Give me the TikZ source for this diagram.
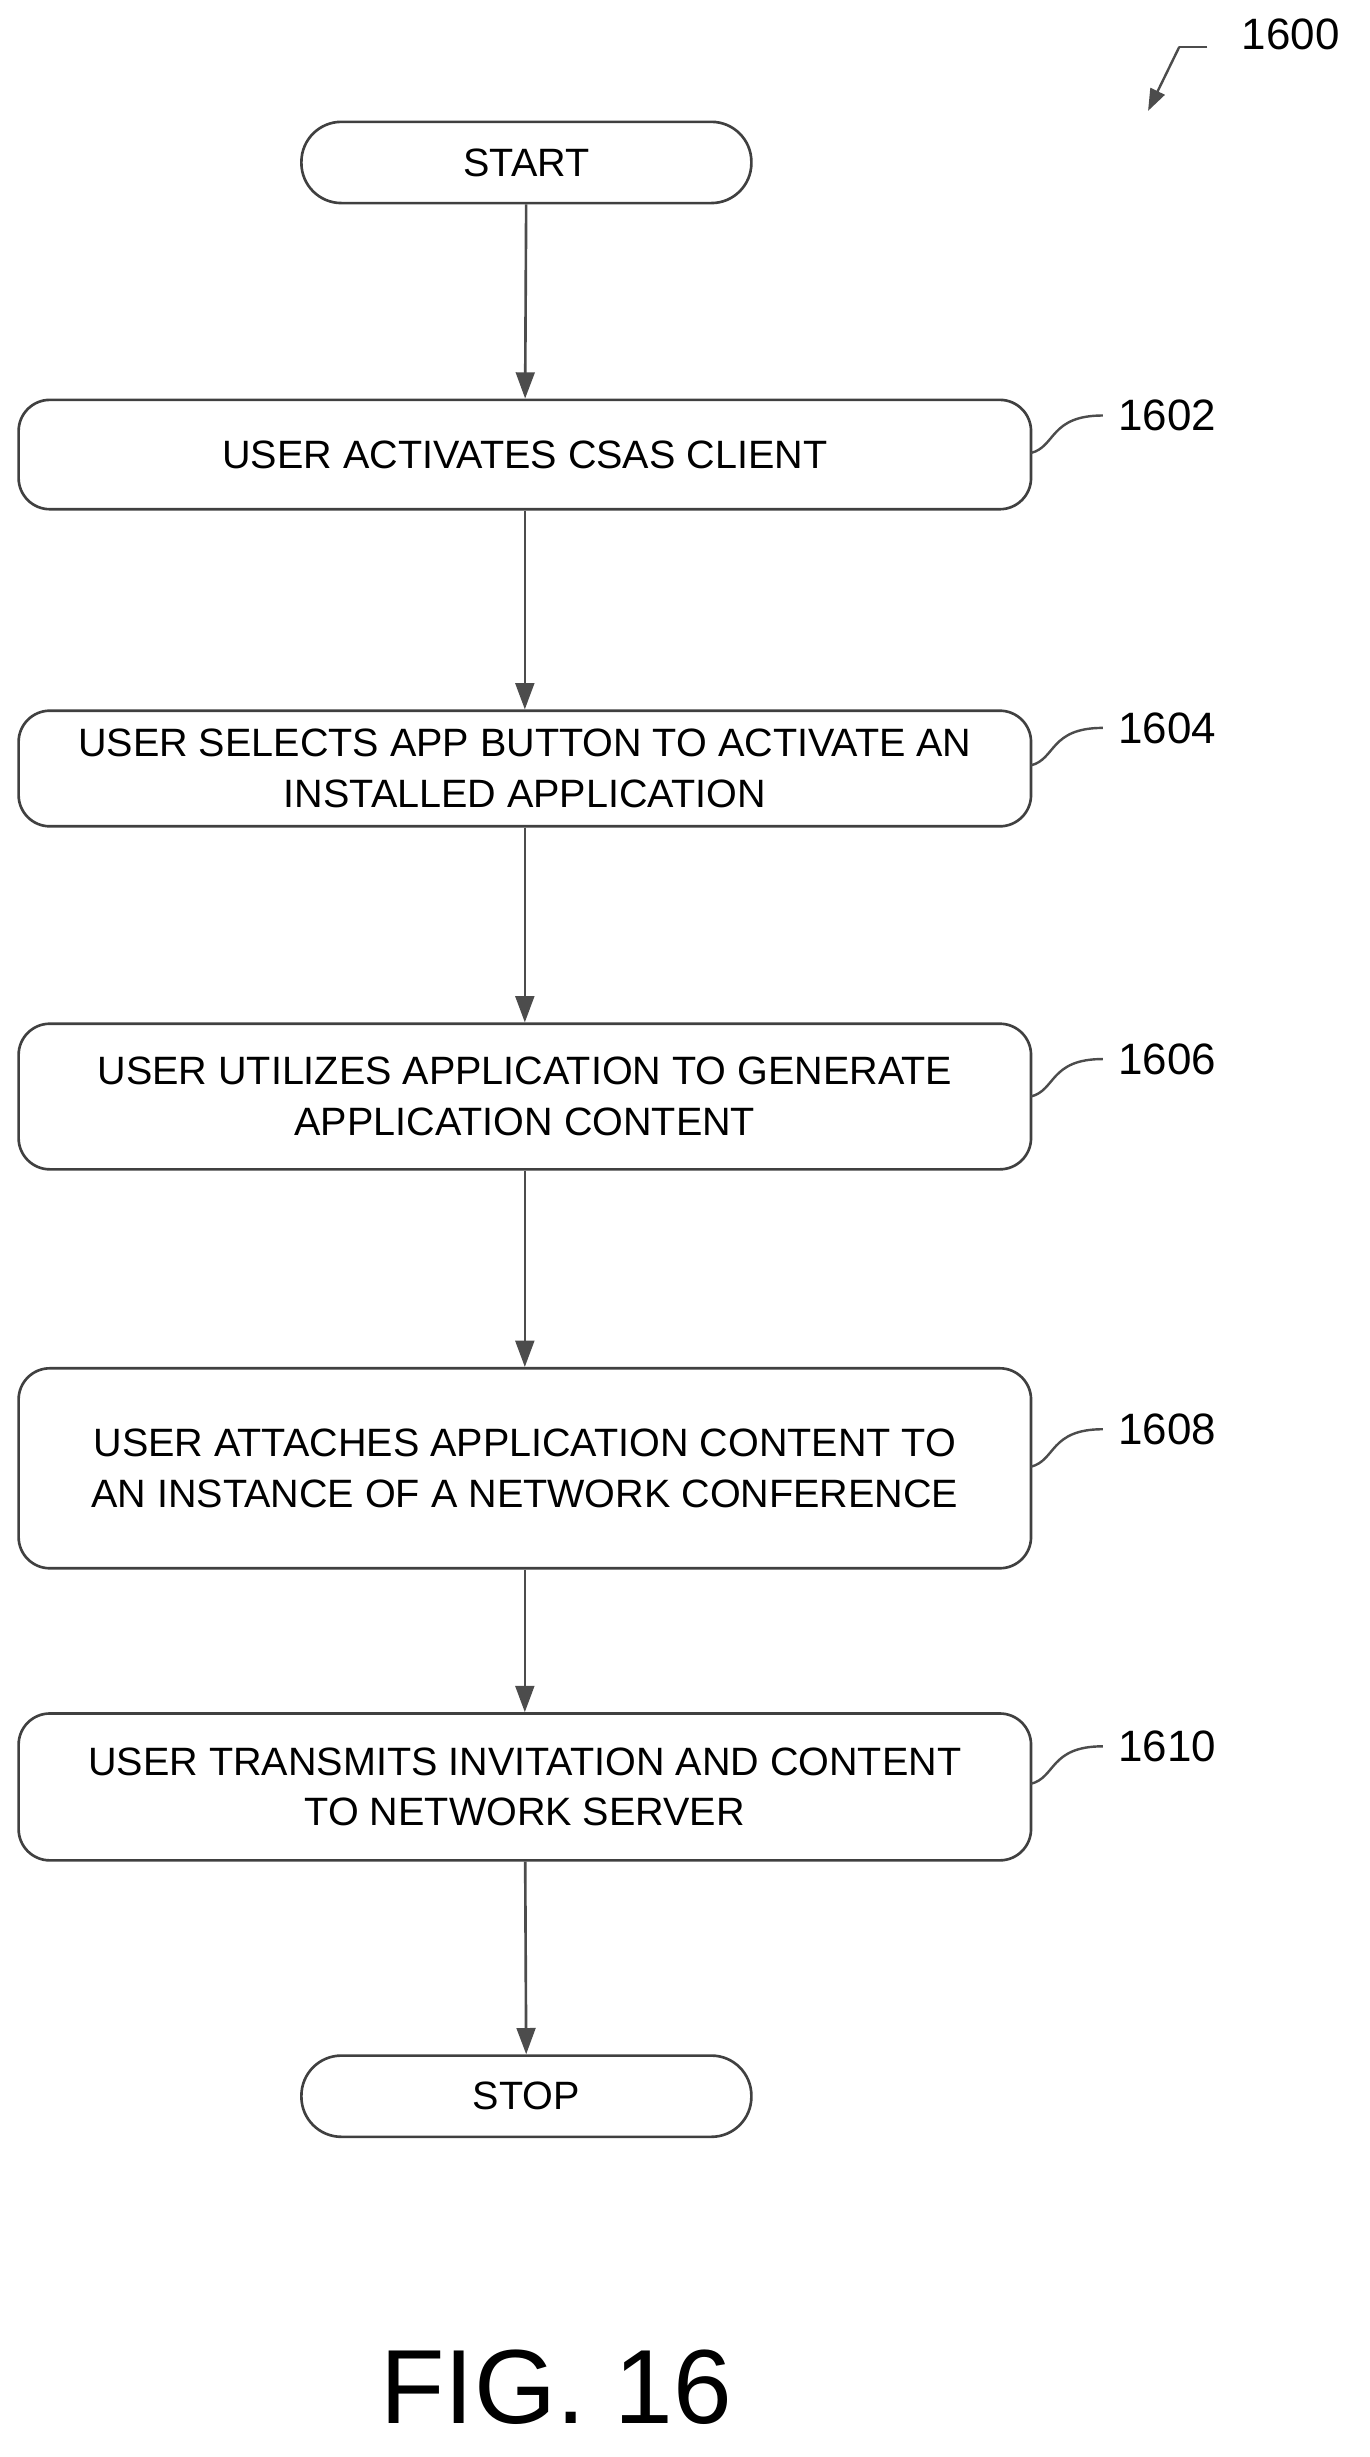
\documentclass[tikz,border=0pt]{standalone}
\usepackage{fontspec}
\setmainfont{Liberation Sans}
\usetikzlibrary{arrows.meta}
\begin{document}
\begin{tikzpicture}[x=0.025cm,y=-0.025cm,
  box/.style={draw=black!75,line width=1.2pt,rounded corners=0.5cm,minimum width=16.2cm,align=center,font=\fontsize{18}{23}\selectfont,inner sep=0pt},
  term/.style={draw=black!75,line width=1.2pt,rounded corners=0.64cm,minimum width=7.2cm,minimum height=1.3cm,font=\fontsize{18}{23}\selectfont},
  arr/.style={draw=black!70,line width=1.2pt,-{Triangle[length=0.42cm,width=0.3cm]}},
  lead/.style={draw=black!70,line width=1.1pt},
  lab/.style={font=\fontsize{20}{24}\selectfont,anchor=west}]
\useasboundingbox (0,0) rectangle (877,1573);
\node[term] (s) at (337,104) {START};
\node[box,minimum height=1.75cm] (b1) at (336,291) {USER ACTIVATES CSAS CLIENT};
\node[box,minimum height=1.85cm] (b2) at (336,492) {USER SELECTS APP BUTTON TO ACTIVATE AN\\INSTALLED APPLICATION};
\node[box,minimum height=2.33cm] (b3) at (336,702) {USER UTILIZES APPLICATION TO GENERATE\\APPLICATION CONTENT};
\node[box,minimum height=3.2cm] (b4) at (336,940) {USER ATTACHES APPLICATION CONTENT TO\\AN INSTANCE OF A NETWORK CONFERENCE};
\node[box,minimum height=2.35cm] (b5) at (336,1144) {USER TRANSMITS INVITATION AND CONTENT\\TO NETWORK SERVER};
\node[term] (e) at (337,1342) {STOP};
\draw[arr] (s) -- (b1);
\draw[arr] (b1) -- (b2);
\draw[arr] (b2) -- (b3);
\draw[arr] (b3) -- (b4);
\draw[arr] (b4) -- (b5);
\draw[arr] (b5) -- (e);
\foreach \b/\y/\t in {b1/266/1602,b2/466/1604,b3/678/1606,b4/915/1608,b5/1118/1610}{
  \node[lab] (l\t) at (711,\y) {\t};
  \draw[lead] (660,\y+24) .. controls (676,\y+20) and (672,\y) .. (706,\y);
}
\node[lab] (l1600) at (790,22) {1600};
\coordinate (t0) at (773,30);
\coordinate (t1) at (755,30);
\coordinate (t2) at (735,71);
\draw[lead] (t0) -- (t1);
\draw[black!70,line width=1.1pt,-{Triangle[length=0.35cm,width=0.25cm]}] (t1) -- (t2);
\node[font=\fontsize{48}{56}\selectfont] (fig) at (356,1528) {FIG. 16};
\end{tikzpicture}
\end{document}
